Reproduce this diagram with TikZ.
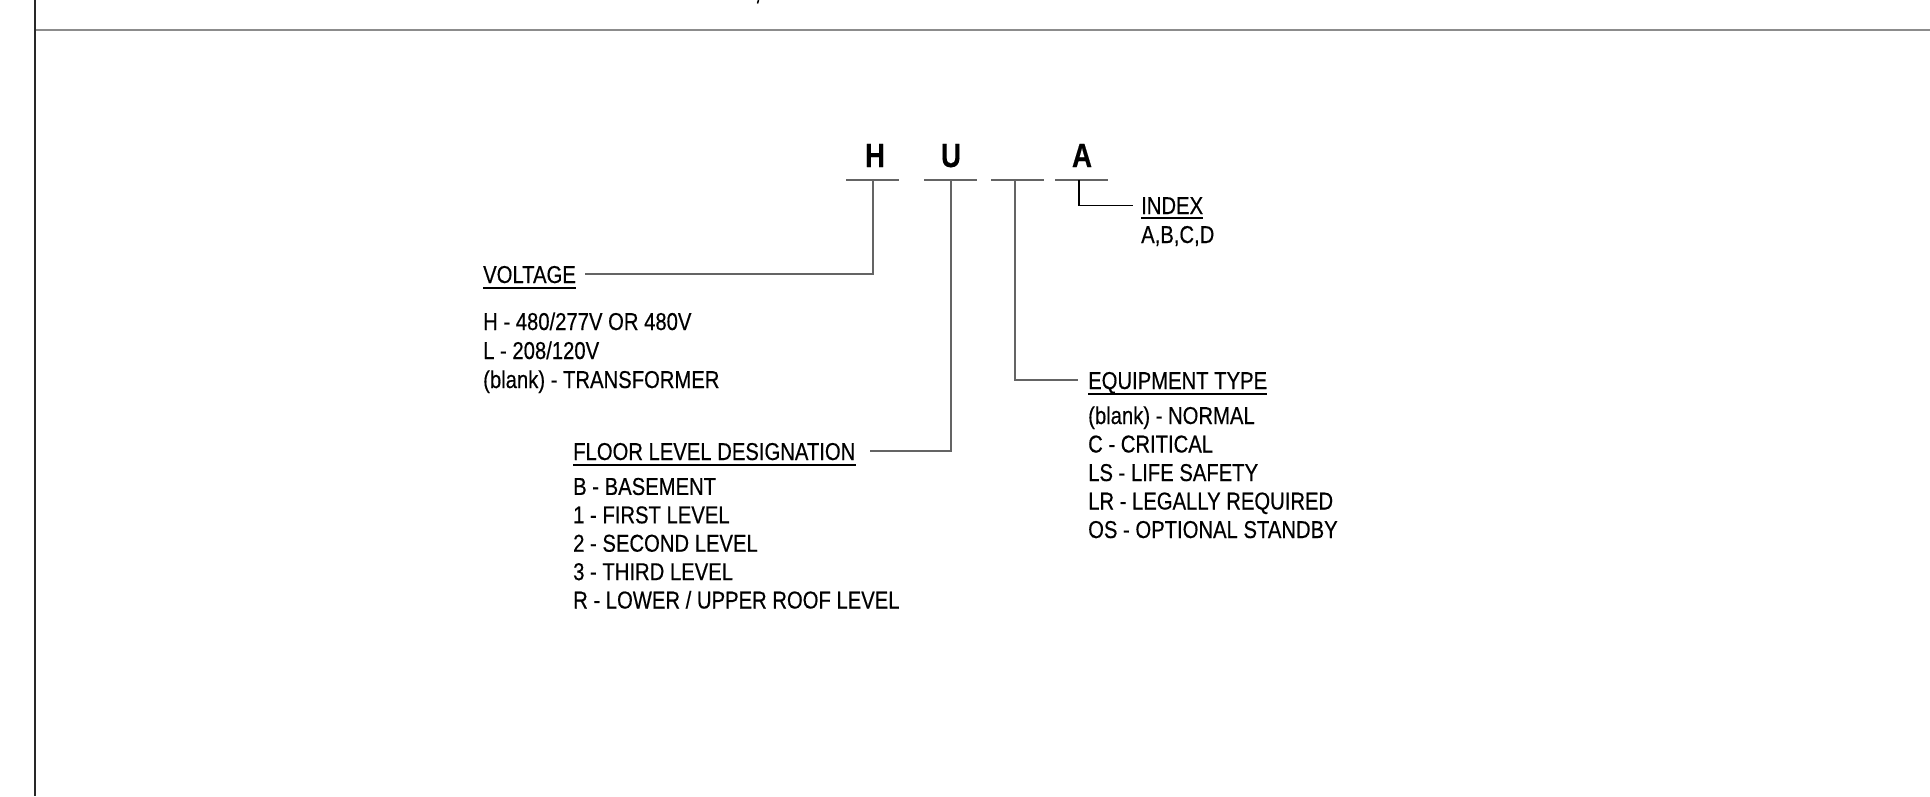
\documentclass[tikz,border=0pt]{standalone}
\usepackage{fontspec}
\setmainfont{Liberation Sans}[FakeStretch=0.83,FakeBold=0.4]
\definecolor{linegray}{RGB}{100,100,100}
\definecolor{framegray}{RGB}{140,140,140}
\definecolor{framedark}{RGB}{40,40,40}
\begin{document}
\begin{tikzpicture}[x=1pt,y=-1pt,
  conn/.style={draw=linegray, line width=1.6pt},
  idxconn/.style={draw=black, line width=1.4pt},
  slotline/.style={draw=linegray, line width=1.6pt},
  lbl/.style={inner sep=0pt, anchor=base west, font=\fontsize{24.4pt}{29pt}\selectfont},
  head/.style={lbl, text height=17.5pt, text depth=0pt},
  big/.style={inner sep=0pt, anchor=base, font=\fontsize{33.5pt}{40pt}\selectfont\bfseries},
  uline/.style={draw=black, line width=2pt}]
\useasboundingbox (0,0) rectangle (1930,796);
% frame
\draw[line width=2.5pt, color=framegray] (35,30) -- (1930,30);
\draw[line width=2.5pt, color=framedark] (35,0) -- (35,796);
\draw[line width=1.5pt] (758.5,0) -- (757.5,3.5);
% letters
\node[big] (lH) at (875,167) {H};
\node[big] (lU) at (951,167) {U};
\node[big] (lA) at (1082,167) {A};
% slots
\coordinate (s1) at (873,180);
\coordinate (s2) at (951,180);
\coordinate (s3) at (1015,180);
\coordinate (s4) at (1079,180);
\draw[slotline] (846,180) -- (899,180);
\draw[slotline] (924,180) -- (977,180);
\draw[slotline] (991,180) -- (1044,180);
\draw[slotline] (1055,180) -- (1108,180);
% VOLTAGE
\node[head] (vol) at (483,283) {VOLTAGE};
\draw[uline] ([yshift=-5pt]vol.base west) -- ([yshift=-5pt]vol.base east);
\draw[conn] (s1) |- ([xshift=9pt]vol.east);
\foreach \t [count=\i] in {H - 480/277V OR 480V, L - 208/120V, (blank) - TRANSFORMER}
  \node[lbl] (vol\i) at (483,{301+29*\i}) {\t};
% FLOOR LEVEL
\node[head] (flr) at (573,460) {FLOOR LEVEL DESIGNATION};
\draw[uline] ([yshift=-5pt]flr.base west) -- ([yshift=-5pt]flr.base east);
\draw[conn] (s2) |- ([xshift=14pt]flr.east);
\foreach \t [count=\i] in {B - BASEMENT, 1 - FIRST LEVEL, 2 - SECOND LEVEL, 3 - THIRD LEVEL, R - LOWER / UPPER ROOF LEVEL}
  \node[lbl] (flr\i) at (573,{466.5+28.4*\i}) {\t};
% EQUIPMENT TYPE
\node[head] (eqp) at (1088,389) {EQUIPMENT TYPE};
\draw[uline] ([yshift=-5pt]eqp.base west) -- ([yshift=-5pt]eqp.base east);
\draw[conn] (s3) |- ([xshift=-10pt]eqp.west);
\foreach \t [count=\i] in {(blank) - NORMAL, C - CRITICAL, LS - LIFE SAFETY, LR - LEGALLY REQUIRED, OS - OPTIONAL STANDBY}
  \node[lbl] (eqp\i) at (1088,{395.5+28.5*\i}) {\t};
% INDEX
\node[head] (idx) at (1141,214) {INDEX};
\draw[uline] ([yshift=-4pt]idx.base west) -- ([yshift=-4pt]idx.base east);
\draw[idxconn] (s4) |- ([xshift=-8pt]idx.west);
\node[lbl] (idx1) at (1141,243) {A,B,C,D};
\end{tikzpicture}
\end{document}
